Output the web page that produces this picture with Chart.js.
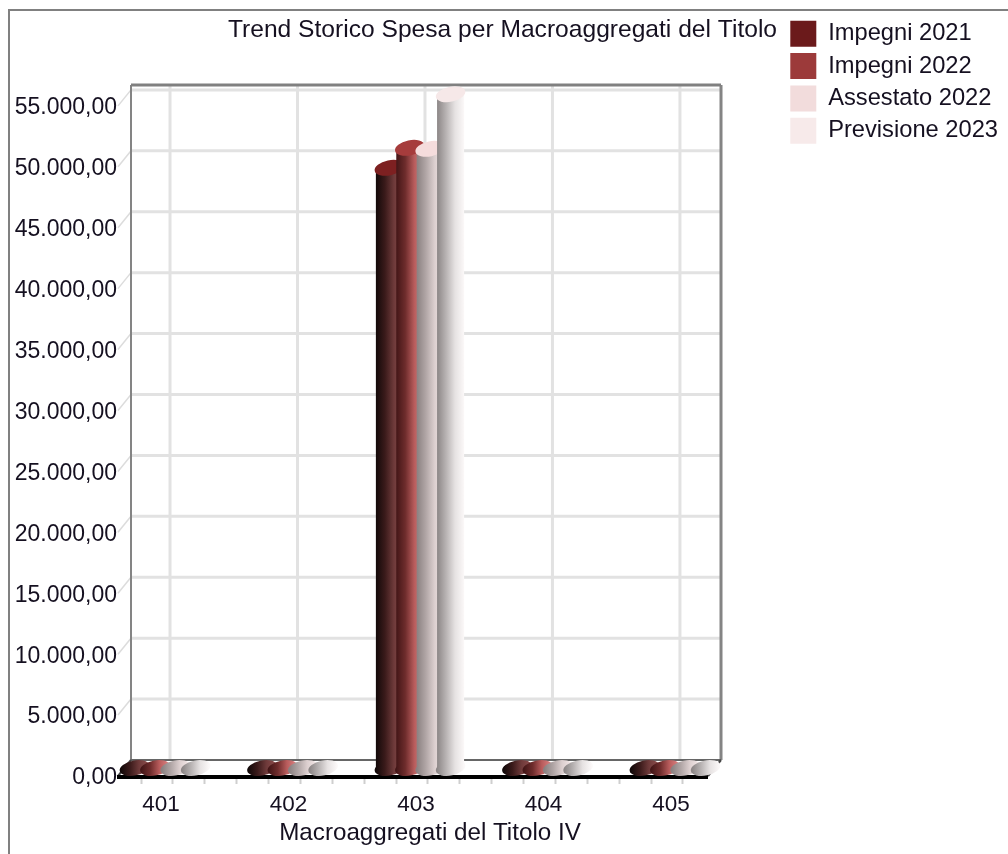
<!DOCTYPE html>
<html>
<head>
<meta charset="utf-8">
<title>Trend Storico Spesa</title>
<style>
  html, body { margin: 0; padding: 0; background: #fff; }
  canvas { display: block; }
</style>
<script src="https://cdn.jsdelivr.net/npm/chart.js@4"></script>
</head>
<body>
<canvas id="chart" width="1008" height="854"></canvas>
<script>
  const categories = ['401', '402', '403', '404', '405'];
  const seriesNames = ['Impegni 2021', 'Impegni 2022', 'Assestato 2022', 'Previsione 2023'];
  const impegni2021 = [0, 0, 49260, 0, 0];
  const impegni2022 = [0, 0, 50900, 0, 0];
  const assestato2022 = [0, 0, 50820, 0, 0];
  const previsione2023 = [0, 0, 55300, 0, 0];
  const seriesValues = [impegni2021, impegni2022, assestato2022, previsione2023];
  const yTicks = [0, 5000, 10000, 15000, 20000, 25000, 30000, 35000, 40000, 45000, 50000, 55000];
  const yTickLabels = ['0,00', '5.000,00', '10.000,00', '15.000,00', '20.000,00', '25.000,00',
    '30.000,00', '35.000,00', '40.000,00', '45.000,00', '50.000,00', '55.000,00'];
  const chartTitle = 'Trend Storico Spesa per Macroaggregati del Titolo';
  const xTitle = 'Macroaggregati del Titolo IV';

  const seriesColors = ['#6b1a1b', '#9c3a3a', '#f2dcdc', '#f7eaea'];
  const topColors = ['#7d2021', '#a63c3c', '#f5dcdc', '#f6e8e8'];
  const shades = [
    ['#120909', '#3a1a1a', '#6e3a3a', '#8a4a4a'],
    ['#431617', '#6e2c2c', '#b85c5c', '#d98080'],
    ['#8a8080', '#b0a5a5', '#dccfcf', '#f2e6e6'],
    ['#8c8686', '#b8b3b3', '#e6e2e2', '#fbf8f8'],
  ];

  const fontName = '"Liberation Sans", Arial, sans-serif';
  const textColor = '#151020';
  const depthX = 13;
  const depthY = 16;
  const barShift = 8;
  const capRx = 15;
  const capRy = 7.5;
  const capTilt = -12 * Math.PI / 180;

  function line(ctx, x1, y1, x2, y2, color, width) {
    ctx.strokeStyle = color;
    ctx.lineWidth = width;
    ctx.beginPath();
    ctx.moveTo(x1, y1);
    ctx.lineTo(x2, y2);
    ctx.stroke();
  }

  // frame, back walls and floor of the fake 3D box
  const boxPlugin = {
    id: 'box',
    beforeDatasetsDraw(chart) {
      const ctx = chart.ctx;
      const { left, right, top, bottom } = chart.chartArea;
      const x = chart.scales.x;
      const y = chart.scales.y;
      ctx.save();
      line(ctx, 9, 10, 9, 854, '#808080', 2);
      line(ctx, 8, 10, 1008, 10, '#808080', 2);

      yTicks.forEach((v) => {
        const py = y.getPixelForValue(v);
        if (v > 0) {
          line(ctx, left + depthX, py - depthY, right + depthX, py - depthY, '#e2e2e2', 3);
          line(ctx, left, py, left + depthX, py - depthY, '#dcdcdc', 1.5);
        }
      });
      categories.forEach((c) => {
        const px = x.getPixelForValue(Number(c)) + depthX;
        line(ctx, px, top - depthY, px, bottom - depthY, '#e2e2e2', 3);
      });
      line(ctx, left + depthX, top - depthY, left + depthX, bottom - depthY, '#848484', 2);
      line(ctx, right + depthX, top - depthY, right + depthX, bottom - depthY, '#848484', 3);
      line(ctx, left + depthX, top - depthY, right + depthX, top - depthY, '#808080', 3);
      line(ctx, left + depthX, bottom - depthY, right + depthX, bottom - depthY, '#666666', 2);
      line(ctx, left, bottom, left + depthX, bottom - depthY, '#444444', 2);
      line(ctx, right, bottom, right + depthX, bottom - depthY, '#444444', 2);
      line(ctx, left - 1, bottom + 1, right, bottom + 1, '#000000', 4);

      // cylinders, later series on top of earlier ones
      chart.data.datasets.forEach((ds, i) => {
        chart.getDatasetMeta(i).data.forEach((el) => {
          const cx = el.x + barShift;
          const half = el.width / 2;
          const baseY = el.base - depthY / 2;
          const topY = el.y - depthY / 2;
          const grad = ctx.createLinearGradient(cx - half, 0, cx + half, 0);
          shades[i].forEach((col, k) => grad.addColorStop(k / (shades[i].length - 1), col));
          ctx.fillStyle = grad;
          ctx.beginPath();
          ctx.ellipse(cx, baseY, capRx, capRy, capTilt, 0, Math.PI * 2);
          ctx.fill();
          if (baseY - topY > 1) {
            ctx.fillRect(cx - half, topY, el.width, baseY - topY);
            ctx.fillStyle = topColors[i];
            ctx.beginPath();
            ctx.ellipse(cx, topY, capRx, capRy, capTilt, 0, Math.PI * 2);
            ctx.fill();
          }
        });
      });

      ctx.fillStyle = textColor;
      ctx.font = '24.2px ' + fontName;
      ctx.textAlign = 'center';
      ctx.textBaseline = 'middle';
      ctx.fillText(xTitle, 430, 833);
      ctx.restore();
      return false;
    },
    afterLayout(chart) {
      const t = chart.titleBlock;
      t.left = 2;
      t.right = 1003;
      const lg = chart.legend;
      lg.left = 784;
      lg.right = 1007;
      lg.top = 14.5;
      lg.bottom = 197;
    },
  };

  new Chart(document.getElementById('chart'), {
    type: 'bar',
    data: {
      datasets: seriesNames.map((name, i) => ({
        label: name,
        data: categories.map((c, k) => ({ x: Number(c), y: seriesValues[i][k] })),
        backgroundColor: seriesColors[i],
        borderWidth: 0,
        categoryPercentage: 2.56,
        barPercentage: 1.324,
      })),
    },
    plugins: [boxPlugin],
    options: {
      responsive: false,
      animation: false,
      events: [],
      layout: { padding: { left: 0, right: 300, top: 0, bottom: 0 } },
      plugins: {
        tooltip: { enabled: false },
        title: {
          display: true,
          text: chartTitle,
          color: textColor,
          font: { family: fontName, size: 24.6, weight: 'normal' },
          padding: { top: 15, bottom: 56.5 },
        },
        legend: {
          position: 'chartArea',
          align: 'start',
          labels: {
            boxWidth: 26,
            boxHeight: 26,
            padding: 6.3,
            color: textColor,
            font: { family: fontName, size: 23.7 },
          },
        },
      },
      scales: {
        x: {
          type: 'linear',
          offset: false,
          min: 400.694,
          max: 405.322,
          afterBuildTicks(scale) {
            const list = [];
            for (let v = 400.75; v <= 405.25; v += 0.25) {
              list.push({ value: v });
            }
            scale.ticks = list;
          },
          afterFit(scale) { scale.height = 78; },
          border: { display: false },
          grid: {
            drawOnChartArea: false,
            tickLength: 8,
            tickColor: '#cfcfcf',
            tickWidth: 2,
          },
          ticks: {
            autoSkip: false,
            maxRotation: 0,
            labelOffset: 4,
            padding: 7,
            color: textColor,
            font: { family: fontName, size: 22.5 },
            callback(value) {
              return Number.isInteger(value) ? String(value) : '';
            },
          },
        },
        y: {
          min: 0,
          max: 55400,
          afterBuildTicks(scale) {
            scale.ticks = yTicks.map((v) => ({ value: v }));
          },
          afterFit(scale) { scale.width = 118; },
          border: { display: false },
          grid: { display: false, drawTicks: false },
          ticks: {
            padding: 1,
            labelOffset: 2,
            color: textColor,
            font: { family: fontName, size: 23 },
            callback(value, index) {
              return yTickLabels[index];
            },
          },
        },
      },
    },
  });
</script>
</body>
</html>
